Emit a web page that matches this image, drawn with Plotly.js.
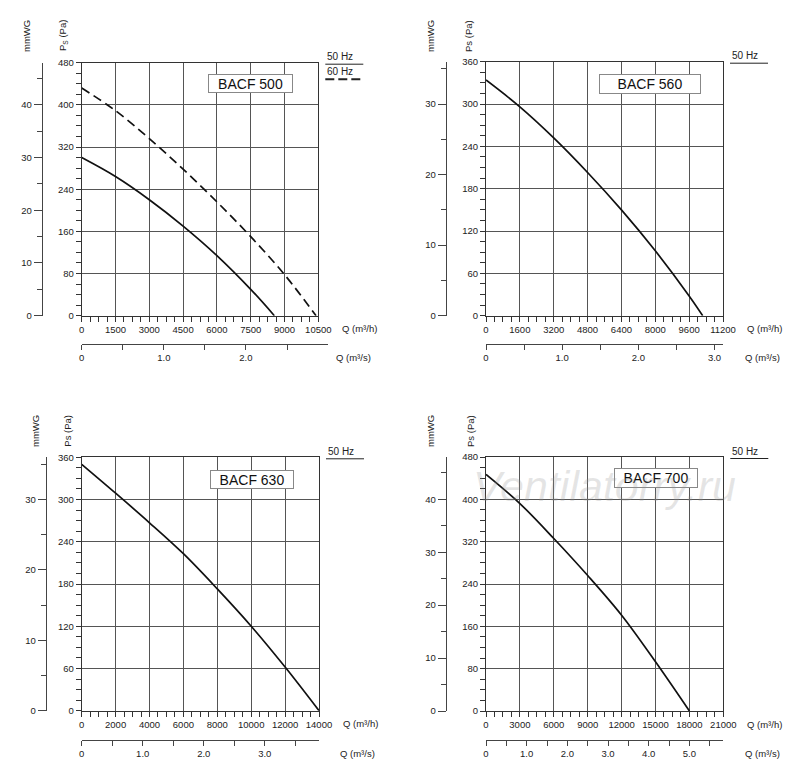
<!DOCTYPE html>
<html>
<head>
<meta charset="utf-8">
<script src="https://cdn.plot.ly/plotly-3.0.1.min.js"></script>
<style>
  body { margin: 0; background: #fff; }
  #chart { width: 800px; height: 782px; }
</style>
</head>
<body>
<div id="chart"></div>
<script>
// fan curves: Q in m3/h, Ps in Pa
const q500_50 = [0, 1500, 3000, 4500, 6000, 7500, 8550];
const ps500_50 = [300, 264, 220, 170, 114, 50, 0];
const q500_60 = [0, 1500, 3000, 4500, 6000, 7500, 9000, 10400];
const ps500_60 = [432, 389, 336, 278, 216, 150, 78, 0];
const q560 = [0, 1600, 3200, 4800, 6400, 8000, 9600, 10240];
const ps560 = [334, 296, 252, 203, 150, 92, 28, 0];
const q630 = [0, 2000, 4000, 6000, 8000, 10000, 12000, 14000];
const ps630 = [350, 309, 267, 223, 173, 120, 62, 0];
const q700 = [0, 3000, 6000, 9000, 12000, 15000, 18000];
const ps700 = [447, 392, 326, 256, 181, 93, 0];

// axis scales per model
const models = ['BACF 500', 'BACF 560', 'BACF 630', 'BACF 700'];
const qMax = [10500, 11200, 14000, 21000];
const qStep = [1500, 1600, 2000, 3000];
const psMax = [480, 360, 360, 480];
const psStep = [80, 60, 60, 80];

const W = 800, H = 782;
const px = (v) => v / W;
const py = (v) => 1 - v / H;
const FONT = 'Liberation Sans, Arial, sans-serif';

// page geometry of each panel, in pixels
const geo = [
  {l: 81.7, r: 318.3, t: 62.7, b: 315.7, mmX: 41.7, qsY: 344, qsR: 328, qsLbl: 334,
    mmLbl: 26, psLbl: 63, lblY: 36, box: [250.5, 83.5, 83, 17]},
  {l: 486, r: 723, t: 61.7, b: 315.7, mmX: 445.7, qsY: 344, qsR: 723, qsLbl: 743,
    mmLbl: 430, psLbl: 468, lblY: 36, box: [650, 84, 100, 18]},
  {l: 81.7, r: 319, t: 457.3, b: 710.7, mmX: 45.7, qsY: 740, qsR: 319, qsLbl: 338,
    mmLbl: 35, psLbl: 66.7, lblY: 431, box: [252, 479, 82, 17]},
  {l: 486, r: 723.3, t: 457, b: 711, mmX: 445.7, qsY: 740, qsR: 723.3, qsLbl: 743,
    mmLbl: 430, psLbl: 470, lblY: 431, box: [656, 478, 82, 18]},
];

const curves = [
  [{q: q500_50, ps: ps500_50, dash: 'solid'}, {q: q500_60, ps: ps500_60, dash: '9px,5px'}],
  [{q: q560, ps: ps560, dash: 'solid'}],
  [{q: q630, ps: ps630, dash: 'solid'}],
  [{q: q700, ps: ps700, dash: 'solid'}],
];

const tickFont = {family: FONT, size: 9.5, color: '#222'};
const traces = [];
const layout = {
  width: W, height: H,
  margin: {l: 0, r: 0, t: 0, b: 0},
  paper_bgcolor: '#fff', plot_bgcolor: 'rgba(0,0,0,0)',
  showlegend: false,
  font: {family: FONT},
  annotations: [],
  shapes: [],
};

function note(text, x, y, extra) {
  layout.annotations.push(Object.assign({
    text: text, xref: 'paper', yref: 'paper', x: px(x), y: py(y),
    showarrow: false, xanchor: 'left', yanchor: 'middle',
    font: {family: FONT, size: 9.5, color: '#222'},
  }, extra || {}));
}

function hline(x0, x1, y, dash, width) {
  layout.shapes.push({
    type: 'line', xref: 'paper', yref: 'paper',
    x0: px(x0), x1: px(x1), y0: py(y), y1: py(y),
    line: {color: '#222', width: width, dash: dash},
  });
}

geo.forEach((g, i) => {
  const n = i + 1;
  const s = i + 5;
  const xs = n === 1 ? '' : String(n);
  const ys = n === 1 ? '' : String(n);

  // main axes: Q (m3/h) and Ps (Pa)
  layout['xaxis' + xs] = {
    domain: [px(g.l), px(g.r)], anchor: 'y' + ys,
    range: [0, qMax[i]], tick0: 0, dtick: qStep[i], tickformat: 'd',
    ticks: 'outside', ticklen: 5, tickcolor: '#333',
    minor: {dtick: qStep[i] / 4, tick0: 0, ticks: 'outside', ticklen: 5, tickcolor: '#333', showgrid: false},
    showgrid: true, gridcolor: '#555', gridwidth: 1,
    showline: true, linecolor: '#333', mirror: true, zeroline: false,
    tickfont: tickFont, fixedrange: true,
  };
  layout['yaxis' + ys] = {
    domain: [py(g.b), py(g.t)], anchor: 'x' + xs,
    range: [0, psMax[i]], tick0: 0, dtick: psStep[i], tickformat: 'd',
    ticks: 'outside', ticklen: 5, tickcolor: '#333',
    minor: {dtick: psStep[i] / 4, tick0: 0, ticks: 'outside', ticklen: 5, tickcolor: '#333', showgrid: false},
    showgrid: true, gridcolor: '#555', gridwidth: 1,
    showline: true, linecolor: '#333', mirror: true, zeroline: false,
    tickfont: tickFont, fixedrange: true,
  };

  // secondary scales: Q (m3/s) below, mmWG on the left
  const qsMax = n === 1 ? 2.999 : qMax[i] / 3600;
  layout['xaxis' + s] = {
    domain: [px(g.l), px(g.qsR)], anchor: 'free', position: py(g.qsY), side: 'bottom',
    range: [0, qsMax], tick0: 0, dtick: 1, tickformat: '.1f', labelalias: {'0.0': '0'},
    ticks: 'outside', ticklen: 5, tickcolor: '#444',
    minor: {dtick: 0.5, tick0: 0, ticks: 'outside', ticklen: 5, tickcolor: '#444', showgrid: false},
    showgrid: false, zeroline: false, showline: true, linecolor: '#444',
    tickfont: tickFont, fixedrange: true,
  };
  layout['yaxis' + s] = {
    domain: [py(g.b), py(g.t)], anchor: 'free', position: px(g.mmX), side: 'left',
    range: [0, psMax[i] / 10], tick0: 0, dtick: 10, tickformat: 'd',
    ticks: 'outside', ticklen: 8, tickcolor: '#444',
    minor: {dtick: 5, tick0: 0, ticks: 'outside', ticklen: 5, tickcolor: '#444', showgrid: false},
    showgrid: false, zeroline: false, showline: true, linecolor: '#444',
    tickfont: tickFont, fixedrange: true,
  };

  curves[i].forEach((c) => {
    traces.push({
      type: 'scatter', mode: 'lines', x: c.q, y: c.ps,
      xaxis: 'x' + xs, yaxis: 'y' + ys,
      line: {color: '#111', width: 1.7, dash: c.dash, shape: 'spline', smoothing: 1},
      hoverinfo: 'skip',
    });
  });
  // same curve in m3/s and mmWG, kept invisible, so the secondary scales get a subplot
  traces.push({
    type: 'scatter', mode: 'lines',
    x: curves[i][0].q.map((v) => v / 3600), y: curves[i][0].ps.map((v) => v / 10),
    xaxis: 'x' + s, yaxis: 'y' + s,
    line: {color: 'rgba(0,0,0,0)', width: 1}, hoverinfo: 'skip',
  });

  // axis titles
  note('Q (m³/h)', g.r + 22, g.b + 13);
  note('Q (m³/s)', g.qsLbl, g.qsY + 13);
  note('mmWG', g.mmLbl, g.lblY, {textangle: -90, xanchor: 'center'});
  note(n === 1 ? 'P<sub>S</sub> (Pa)' : 'Ps (Pa)', g.psLbl, g.lblY, {textangle: -90, xanchor: 'center'});

  // model label box
  const b = g.box;
  note(models[i], b[0], b[1], {
    xanchor: 'center', width: b[2] - 2, height: b[3] - 2, borderpad: 1,
    bordercolor: '#888', borderwidth: 1, bgcolor: '#fff', align: 'center',
    font: {family: FONT, size: 14, color: '#111'},
  });

  // frequency key
  note('50 Hz', g.r + 7, g.t - 6, {font: {family: FONT, size: 10, color: '#222'}});
  hline(g.r + 7, g.r + 45, g.t + 1.5, 'solid', 1);
  if (n === 1) {
    note('60 Hz', g.r + 7, g.t + 9, {font: {family: FONT, size: 10, color: '#222'}});
    hline(g.r + 7, g.r + 45, g.t + 16.5, '9px,4px', 2);
  }
});

// watermark on the last sheet
note('Ventilatorry.ru', 604, 486, {
  xanchor: 'center',
  font: {family: FONT, size: 43, style: 'italic', color: 'rgba(150,150,150,0.25)'},
});

Plotly.newPlot('chart', traces, layout, {staticPlot: true});
</script>
</body>
</html>
